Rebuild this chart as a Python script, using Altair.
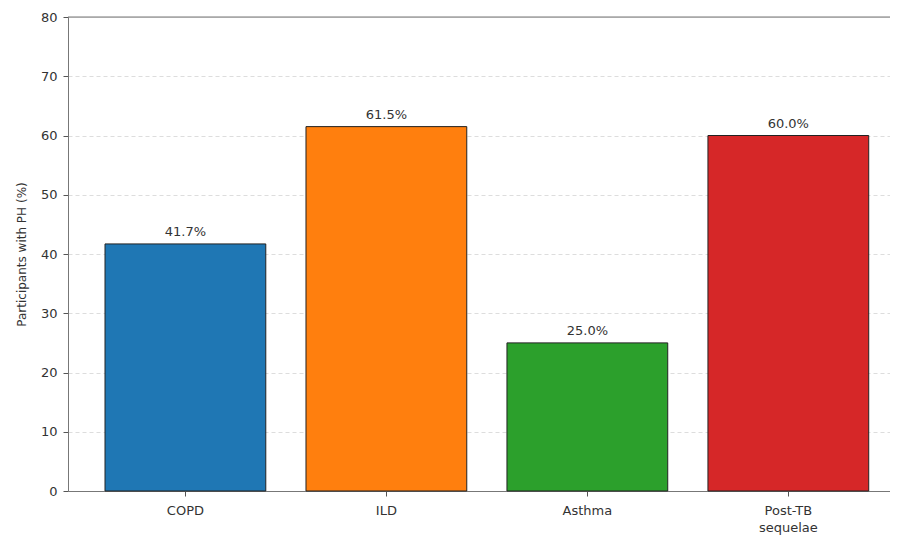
import altair as alt
import pandas as pd

categories = ["COPD", "ILD", "Asthma", "Post-TB|sequelae"]
values = [41.7, 61.5, 25.0, 60.0]
labels = ["41.7%", "61.5%", "25.0%", "60.0%"]
colors = ["#1f77b4", "#ff7f0e", "#2ca02c", "#d62728"]

df = pd.DataFrame({"cat": categories, "val": values, "lab": labels})

FONT = "DejaVu Sans"

xscale = alt.Scale(domain=categories, paddingInner=0.2, paddingOuter=0.145, align=0.635)
yscale = alt.Scale(domain=[0, 80], nice=False)

base = alt.Chart(df)

bars = base.mark_bar(stroke="#222222", strokeWidth=1).encode(
    x=alt.X("cat:N", scale=xscale, sort=categories,
            axis=alt.Axis(title=None, labelAngle=0, labelExpr="split(datum.label, '|')",
                          labelFont=FONT, labelFontSize=13, labelColor="#333333",
                          tickColor="#555555", tickSize=5, domainColor="#777777",
                          labelPadding=8, grid=False, labelLineHeight=17)),
    y=alt.Y("val:Q", scale=yscale,
            axis=alt.Axis(title="Participants with PH (%)", values=list(range(0, 81, 10)),
                          labelFont=FONT, labelFontSize=13, labelColor="#333333",
                          labelPadding=6,
                          titleFont=FONT, titleFontSize=12, titleFontWeight="normal",
                          titleColor="#333333", titlePadding=12,
                          tickColor="#555555", tickSize=5, domainColor="#777777",
                          grid=True, gridDash=[4, 3], gridColor="#dddddd", gridOpacity=1)),
    color=alt.Color("cat:N", scale=alt.Scale(domain=categories, range=colors), legend=None),
)

text = base.mark_text(baseline="bottom", dy=-5, font=FONT, fontSize=13, color="#333333").encode(
    x=alt.X("cat:N", scale=xscale, sort=categories),
    y=alt.Y("val:Q", scale=yscale),
    text="lab:N",
)

topline = alt.Chart(pd.DataFrame({"y": [80]})).mark_rule(color="#777777", strokeWidth=1).encode(
    y=alt.Y("y:Q", scale=yscale)
)

chart = alt.layer(bars, text, topline).properties(
    width=822, height=474,
    autosize=alt.AutoSizeParams(type="none"),
    padding={"left": 60, "top": 9, "right": 0, "bottom": 50},
).configure_view(stroke=None).configure(background="white")

chart.save("out.html", embed_options={"renderer": "svg", "actions": False})
